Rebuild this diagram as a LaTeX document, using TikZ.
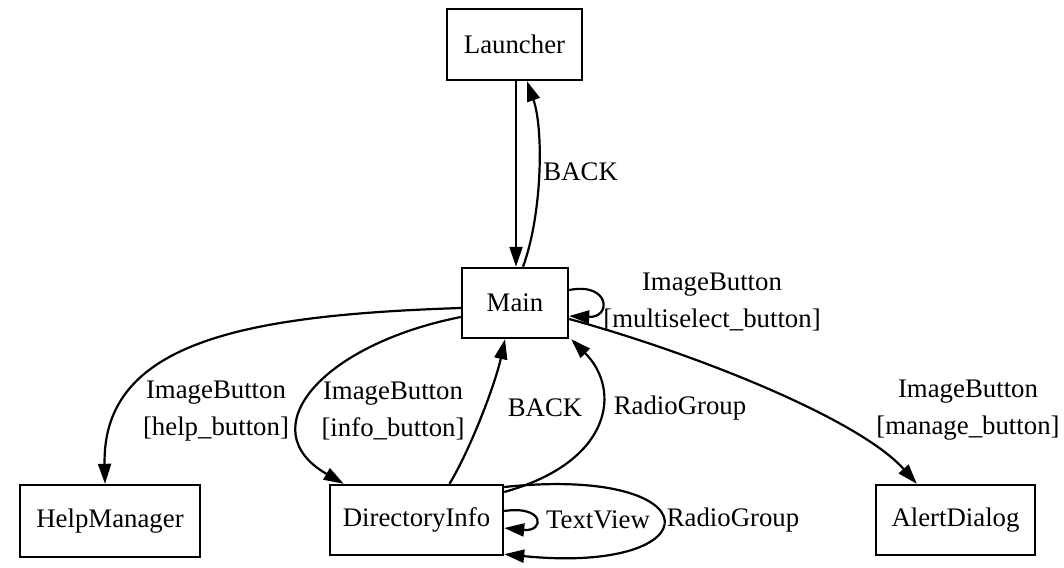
\documentclass[tikz,border=0pt]{standalone}
\usepackage{fontspec}
\setmainfont{Liberation Serif}
\usetikzlibrary{arrows.meta,calc}

\tikzset{
  state/.style={draw, line width=1.2pt, rectangle, minimum height=35pt,
                font=\fontsize{13.4}{18.5}\selectfont, inner sep=0pt},
  edge/.style={line width=1.1pt, -{Triangle[length=10pt,width=6.5pt]}},
  lbl/.style={font=\fontsize{13.4}{18.5}\selectfont, align=center, inner sep=0pt}
}

\begin{document}
\begin{tikzpicture}[x=0.5pt, y=-0.5pt]
\useasboundingbox (0,0) rectangle (1064,567);

% states
\node[state, minimum width=67.5pt, minimum height=35.5pt] (Launcher) at (514.5,44.5) {Launcher};
\node[state, minimum width=53pt, minimum height=35pt] (Main) at (515,303) {Main};
\node[state, minimum width=90pt, minimum height=36pt] (HelpManager) at (110,521) {HelpManager};
\node[state, minimum width=86.5pt, minimum height=35pt] (DirectoryInfo) at (416.5,520) {DirectoryInfo};
\node[state, minimum width=79.5pt, minimum height=35pt] (AlertDialog) at (955.5,520) {AlertDialog};

% Launcher <-> Main
\draw[edge] ($(Launcher.south)+(1.5,0)$) -- ($(Main.north)+(1,0)$);
\draw[edge] ($(Main.north)+(8,0)$) .. controls (542,215) and (544,130) .. ($(Launcher.south)+(12.5,0)$);
\node[lbl, anchor=west] (backTop) at (543,172) {BACK};

% Main self loop
\draw[edge] ($(Main.east)+(0,-13)$) .. controls (610,282) and (612,318) .. ($(Main.east)+(0,13)$);
\node[lbl] (multiLbl) at (712,302) {ImageButton\\[0pt][multiselect\_button]};

% Main -> HelpManager
\draw[edge] ($(Main.west)+(0,5)$) .. controls (250,315) and (102,340) .. ($(HelpManager.north)+(-5,0)$);
\node[lbl] (helpLbl) at (216,411) {ImageButton\\[0pt][help\_button]};

% Main -> DirectoryInfo
\draw[edge] ($(Main.west)+(0,14)$) .. controls (320,345) and (250,430) .. ($(DirectoryInfo.north west)+(15,0)$);
\node[lbl] (infoLbl) at (393,411) {ImageButton\\[0pt][info\_button]};

% DirectoryInfo -> Main
\draw[edge] ($(DirectoryInfo.north)+(33,0)$) .. controls (470,450) and (495,385) .. ($(Main.south)+(-10,0)$);
\node[lbl] (backBot) at (545,408) {BACK};
\draw[edge] ($(DirectoryInfo.east)+(0,-28)$) .. controls (612,462) and (622,390) .. ($(Main.south east)+(2,0)$);
\node[lbl] (radioTop) at (680,408) {RadioGroup};

% DirectoryInfo self loops
\draw[edge] ($(DirectoryInfo.east)+(0,-9)$) .. controls (545,505) and (545,532) .. ($(DirectoryInfo.east)+(0,8)$);
\node[lbl] (textLbl) at (598,520) {TextView};
\draw[edge] ($(DirectoryInfo.east)+(0,-33)$) .. controls (715,465) and (715,575) .. ($(DirectoryInfo.south east)+(0,-2)$);
\node[lbl] (radioBot) at (733,520) {RadioGroup};

% Main -> AlertDialog
\draw[edge] ($(Main.east)+(0,16)$) .. controls (700,355) and (860,420) .. ($(AlertDialog.north west)+(42,0)$);
\node[lbl] (manageLbl) at (968,410) {ImageButton\\[0pt][manage\_button]};

\end{tikzpicture}
\end{document}
